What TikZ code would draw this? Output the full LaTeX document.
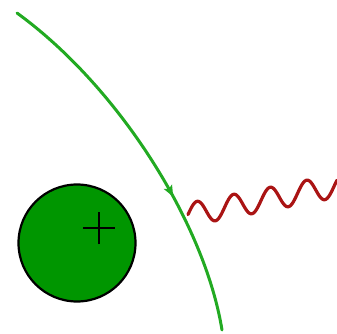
\documentclass[tikz,border=0pt]{standalone}
\usepackage{tikz}
\usetikzlibrary{arrows.meta,decorations.markings}
\definecolor{trackgreen}{RGB}{34,170,34}
\definecolor{nucgreen}  {RGB}{0,150,0}
\definecolor{photonred} {RGB}{170,20,20}

\begin{document}
\begin{tikzpicture}[
    x=1pt,y=-1pt,
    track/.style={trackgreen,line width=3pt,line cap=round,
                  decoration={markings,mark=at position 0.63 with {\arrow{Stealth[length=11pt,width=9pt,inset=2pt]}}},
                  postaction={decorate}},
    nucleus/.style={fill=nucgreen,draw=black,line width=2.2pt},
    charge/.style={black,line width=2.6pt},
    photon/.style={photonred,line width=3.2pt,line cap=round}
  ]
    \useasboundingbox (0,0) rectangle (337,334);
    % nucleus with its charge
    \coordinate (nuc) at (77,243);
    \draw[nucleus] (nuc) circle[radius=58.5];
    \coordinate (plus) at (99,228);
    \draw[charge] ([xshift=-16pt]plus) -- ([xshift=16pt]plus)
                  ([yshift=-16pt]plus) -- ([yshift=16pt]plus);
    % electron track bent near the nucleus
    \coordinate (in)  at (17,13);
    \coordinate (out) at (222,330);
    \draw[track] (in) .. controls (120,88) and (205,225) .. (out);
    % emitted photon
    \coordinate (emit) at (188,214.6);
    \draw[photon] plot[domain=188:337,samples=160,smooth]
      (\x,{214.6-0.193*(\x-188)-11.5*sin((\x-188)/36.5*360)});
  \end{tikzpicture}
\end{document}
